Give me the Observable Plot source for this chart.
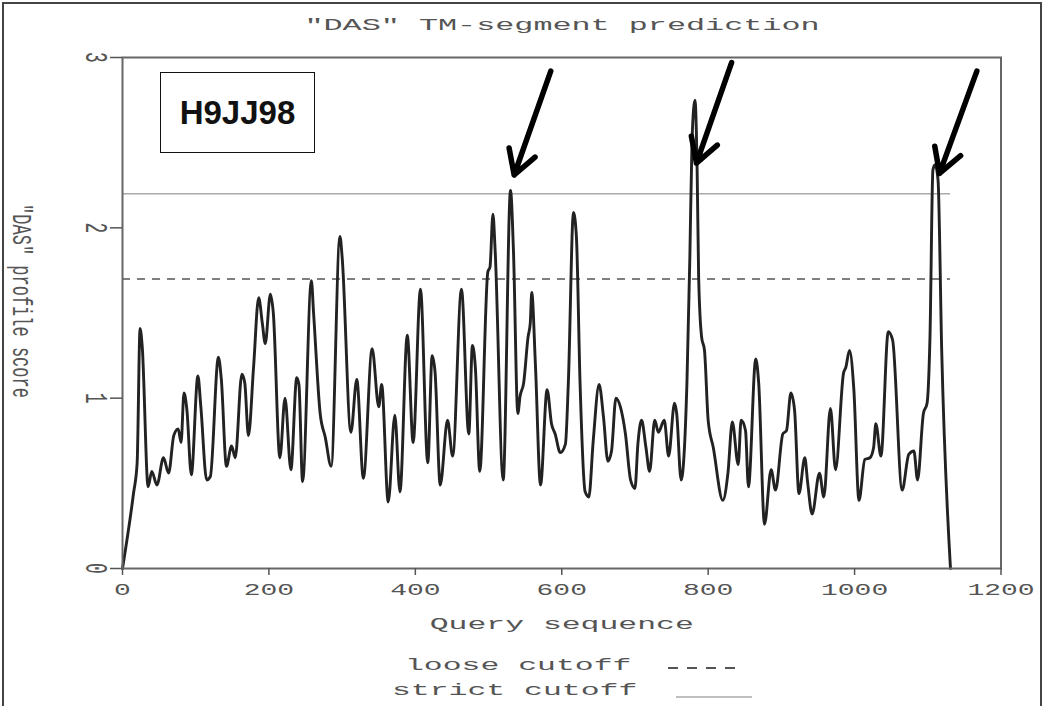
<!DOCTYPE html>
<html>
<head>
<meta charset="utf-8">
<script src="https://cdn.jsdelivr.net/npm/d3@7"></script>
<script src="https://cdn.jsdelivr.net/npm/@observablehq/plot@0.6"></script>
<style>
  body { margin: 0; background: #fff; }
  #page { position: relative; width: 1044px; height: 706px; overflow: hidden; background: #fff;
          font-family: "Liberation Mono", "DejaVu Sans Mono", monospace; color: #555; }
  #outer { position: absolute; left: 2px; top: 2px; width: 1036px; height: 720px; border: 2px solid #444; pointer-events: none; }
  #title { position: relative; height: 45px; }
  #title span { position: absolute; left: 562px; top: 25px; white-space: pre; font-size: 17px; line-height: 17px;
                transform: translate(-50%, -50%) scaleX(1.87); }
  #chart svg { display: block; }
  #legend { position: relative; height: 61px; }
  #legend span.t { position: absolute; white-space: pre; font-size: 17px; line-height: 17px; transform-origin: left center; transform: scaleX(1.85); }
  #legend svg { position: absolute; left: 0; top: 0; }
  #tag { position: absolute; left: 160px; top: 72px; width: 153px; height: 79px; border: 1.5px solid #111;
         display: flex; align-items: center; justify-content: center; font-family: "Liberation Sans", Arial, sans-serif;
         font-weight: bold; font-size: 33px; color: #111; background: #fff; }
</style>
</head>
<body>
<div id="page">
  <div id="title"><span></span></div>
  <div id="chart"></div>
  <div id="legend"></div>
  <div id="tag"></div>
  <div id="outer"></div>
</div>
<script>
// ---- data ----
const titleText = '"DAS" TM-segment prediction';
const proteinId = "H9JJ98";
const xLabel = "Query sequence";
const yLabel = '"DAS" profile score';
const xTicks = [0, 200, 400, 600, 800, 1000, 1200];
const yTicks = [0, 1, 2, 3];
const looseCutoff = 1.7;
const strictCutoff = 2.2;
const seqLength = 1131;
const legendLabels = ["loose cutoff", "strict cutoff"];

const seqPos = [0, 15, 20, 24, 27, 35, 40, 47, 56, 63, 70, 76, 80, 84, 88, 94, 103, 107, 115, 120,
  131, 135, 142, 149, 154, 163, 167, 172, 179, 186, 191, 195, 202, 206, 215, 222, 230, 238, 241, 246,
  258, 261, 270, 277, 285, 297, 300, 312, 320, 329, 341, 350, 354, 363, 372, 379, 389, 397, 407, 417,
  423, 427, 434, 444, 451, 463, 473, 478, 482, 488, 499, 502, 506, 509, 520, 530, 534, 540, 543, 548,
  554, 557, 559, 564, 571, 580, 586, 591, 598, 605, 609, 616, 620, 625, 632, 637, 643, 651, 657, 663,
  668, 674, 680, 687, 694, 700, 704, 709, 715, 720, 727, 732, 740, 746, 754, 757, 763, 771, 775, 778,
  782, 785, 787, 791, 795, 800, 807, 820, 827, 833, 841, 845, 851, 855, 865, 869, 877, 886, 892, 902,
  907, 913, 918, 924, 932, 936, 942, 952, 958, 967, 974, 985, 988, 993, 999, 1006, 1014, 1021, 1026, 1029,
  1036, 1046, 1052, 1065, 1074, 1081, 1086, 1094, 1099, 1103, 1107, 1110, 1114, 1119, 1131];
const dasScore = [0, 0.44, 0.62, 1.41, 1.30, 0.48, 0.57, 0.49, 0.65, 0.56, 0.78, 0.82, 0.74, 1.03, 0.93, 0.55, 1.13, 0.95, 0.52, 0.54,
  1.24, 1.11, 0.60, 0.72, 0.65, 1.14, 1.09, 0.78, 1.18, 1.59, 1.44, 1.32, 1.61, 1.50, 0.65, 1.00, 0.58, 1.12, 1.08, 0.51,
  1.69, 1.50, 0.91, 0.77, 0.60, 1.95, 1.83, 0.80, 1.11, 0.53, 1.29, 0.95, 1.08, 0.39, 0.90, 0.45, 1.37, 0.74, 1.64, 0.62,
  1.25, 1.15, 0.49, 0.87, 0.66, 1.64, 0.79, 1.31, 1.18, 0.57, 1.74, 1.77, 2.08, 1.87, 0.52, 2.22, 1.87, 0.91, 1.01, 1.09,
  1.36, 1.44, 1.62, 1.20, 0.49, 1.05, 0.85, 0.79, 0.68, 0.73, 1.09, 2.09, 1.95, 1.09, 0.45, 0.42, 0.75, 1.08, 0.89, 0.63,
  0.69, 1.00, 0.95, 0.79, 0.52, 0.47, 0.73, 0.87, 0.71, 0.57, 0.87, 0.80, 0.87, 0.66, 0.97, 0.91, 0.52, 1.09, 1.83, 2.52,
  2.75, 2.32, 1.71, 1.36, 1.28, 0.87, 0.71, 0.40, 0.56, 0.86, 0.61, 0.87, 0.81, 0.48, 1.23, 1.09, 0.26, 0.58, 0.46, 0.79,
  0.81, 1.03, 0.93, 0.44, 0.65, 0.50, 0.32, 0.56, 0.42, 0.94, 0.58, 1.15, 1.18, 1.28, 1.05, 0.40, 0.64, 0.65, 0.71, 0.85,
  0.66, 1.39, 1.34, 0.46, 0.67, 0.69, 0.52, 0.91, 0.97, 1.36, 2.34, 2.37, 2.28, 1.28, 0];

// annotation arrows (tail -> tip, in data units)
const arrowTailX = [585, 832, 1167];
const arrowTailY = [2.92, 2.97, 2.92];
const arrowTipX = [535, 784, 1116];
const arrowTipY = [2.31, 2.38, 2.32];

// ---- build ----
const profile = seqPos.map((x, i) => ({x, y: dasScore[i]}));
const arrows = arrowTailX.map((x, i) => ({x1: x, y1: arrowTailY[i], x2: arrowTipX[i], y2: arrowTipY[i]}));
const FONT = '"Liberation Mono", "DejaVu Sans Mono", monospace';
const SX = 1.85;

document.querySelector("#title span").textContent = titleText;
document.getElementById("tag").textContent = proteinId;

const chart = Plot.plot({
  width: 1044,
  height: 600,
  marginLeft: 122,
  marginRight: 43.5,
  marginTop: 12,
  marginBottom: 77,
  x: {domain: [0, 1200]},
  y: {domain: [0, 3]},
  style: {fontFamily: FONT, fontSize: "17px", color: "#555", background: "#fff", overflow: "visible"},
  marks: [
    Plot.ruleY([strictCutoff], {x1: 0, x2: seqLength, stroke: "#aaa", strokeWidth: 1.5}),
    Plot.ruleY([looseCutoff], {x1: 0, x2: seqLength, stroke: "#555", strokeWidth: 1.6, strokeDasharray: "8,7"}),
    Plot.line(profile, {x: "x", y: "y", curve: "monotone-x", stroke: "#222", strokeWidth: 2.9, strokeLinejoin: "round"}),
    Plot.frame({stroke: "#666", strokeWidth: 2}),
    Plot.axisX({ticks: xTicks, tickFormat: d => String(d), tickSize: 7, tickPadding: 8, label: null,
      stroke: "#555", strokeWidth: 1.5, fontSize: 16}),
    Plot.axisY({ticks: yTicks, tickFormat: d => String(d), tickSize: 12, tickPadding: 3, tickRotate: 90, label: null,
      stroke: "#555", strokeWidth: 1.5, fontSize: 18}),
    Plot.text([xLabel], {text: d => d, frameAnchor: "bottom", dy: 60, textAnchor: "middle", fill: "#555"}),
    Plot.text([yLabel], {text: d => d, frameAnchor: "left", dx: -101, dy: -12, rotate: 90, textAnchor: "middle", fill: "#555"}),
    Plot.arrow(arrows, {x1: "x1", y1: "y1", x2: "x2", y2: "y2", stroke: "#000", strokeWidth: 5.5,
      headLength: 7.5, headAngle: 60, strokeLinecap: "round", strokeLinejoin: "round"})
  ]
});
document.getElementById("chart").appendChild(chart);

// horizontal stretch of the typewriter glyphs, like the reference
const sel = d3.select(chart);
function addT(nodes, extra) {
  nodes.each(function () {
    const t = this.getAttribute("transform") || "";
    this.setAttribute("transform", t + " " + extra);
  });
}
addT(sel.selectAll('g[aria-label="x-axis tick label"] text'), `scale(1.75,1)`);
addT(sel.selectAll('g[aria-label="y-axis tick label"] text'), `scale(1,1.7)`);
const textGroups = sel.selectAll('g[aria-label="text"]').nodes();
if (textGroups[0]) addT(d3.select(textGroups[0]).selectAll("text"), `scale(${SX},1)`);
if (textGroups[1]) addT(d3.select(textGroups[1]).selectAll("text"), `scale(1,1.6)`);

// legend below the chart
const legend = document.getElementById("legend");
const lsvg = d3.create("svg").attr("width", 1044).attr("height", 61);
lsvg.append("line").attr("x1", 668).attr("x2", 742).attr("y1", 23).attr("y2", 23)
  .attr("stroke", "#555").attr("stroke-width", 2).attr("stroke-dasharray", "10,9");
lsvg.append("line").attr("x1", 676).attr("x2", 752).attr("y1", 52).attr("y2", 52)
  .attr("stroke", "#aaa").attr("stroke-width", 1.5);
legend.appendChild(lsvg.node());
const legPos = [[405, 11.5], [392, 36.5]];
legendLabels.forEach((s, i) => {
  const sp = document.createElement("span");
  sp.className = "t";
  sp.textContent = s;
  sp.style.left = legPos[i][0] + "px";
  sp.style.top = legPos[i][1] + "px";
  legend.appendChild(sp);
});
</script>
</body>
</html>
